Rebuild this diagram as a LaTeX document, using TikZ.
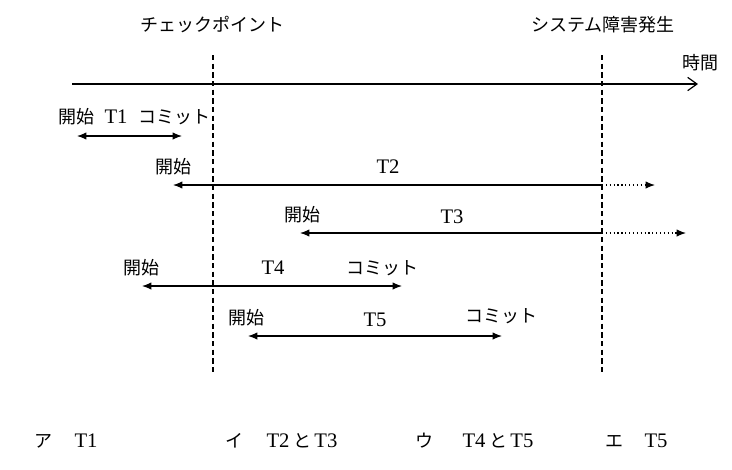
\documentclass[tikz,border=0pt]{standalone}
\usepackage{fontspec}
\setmainfont{Liberation Serif}
\newfontfamily\jp{Noto Sans CJK JP}
\usetikzlibrary{arrows.meta}
\tikzset{>=latex}
\tikzset{jptext/.style = {inner sep=1pt, font=\jp\fontsize{13.5}{15}\selectfont}}
\tikzset{tname/.style = {inner sep=1pt, font=\fontsize{15.5}{17}\selectfont}}
\tikzset{txn/.style = {{Latex[length=7pt,width=5.5pt]}-{Latex[length=7pt,width=5.5pt]}, line width=0.9pt}}
\tikzset{txnopen/.style = {{Latex[length=7pt,width=5.5pt]}-, line width=0.9pt}}
\tikzset{lost/.style = {-{Latex[length=7pt,width=5.5pt]}, dotted, line width=0.9pt}}
\tikzset{axis/.style = {-{Straight Barb[length=7pt,width=10pt]}, line width=0.9pt}}
\tikzset{event/.style = {dash pattern=on 4pt off 2.5pt, line width=0.9pt}}

\begin{document}
\begin{tikzpicture}[x=0.75pt,y=-0.75pt]
                \useasboundingbox (0,0) rectangle (732,469);

                \node[jptext] (CP) at (212,25) {チェックポイント};
                \node[jptext] (SF) at (603,25) {システム障害発生};
                \node[jptext] (TM) at (700,63) {時間};

                \coordinate (ts) at (72,84);
                \coordinate (te) at (698,84);
                \draw[axis] (ts) -- (te);

                \coordinate (cpt) at (213,55);
                \coordinate (cpb) at (213,372);
                \coordinate (sft) at (602,55);
                \coordinate (sfb) at (602,372);
                \draw[event] (cpt) -- (cpb);
                \draw[event] (sft) -- (sfb);

                \node[jptext] (s1) at (76,117) {開始};
                \node[tname] (T1) at (116,117) {T1};
                \node[jptext] (c1) at (174,117) {コミット};
                \coordinate (a1) at (77,136);
                \coordinate (b1) at (182,136);
                \draw[txn] (a1) -- (b1);

                \node[jptext] (s2) at (173,167) {開始};
                \node[tname] (T2) at (388,167) {T2};
                \coordinate (a2) at (173,185);
                \coordinate (f2) at (602,185);
                \coordinate (e2) at (655,185);
                \draw[txnopen] (a2) -- (f2);
                \draw[lost] (f2) -- (e2);

                \node[jptext] (s3) at (302,215) {開始};
                \node[tname] (T3) at (452,217) {T3};
                \coordinate (a3) at (300,233);
                \coordinate (f3) at (602,233);
                \coordinate (e3) at (686,233);
                \draw[txnopen] (a3) -- (f3);
                \draw[lost] (f3) -- (e3);

                \node[jptext] (s4) at (141,268) {開始};
                \node[tname] (T4) at (273,268) {T4};
                \node[jptext] (c4) at (382,268) {コミット};
                \coordinate (a4) at (142,286);
                \coordinate (b4) at (402,286);
                \draw[txn] (a4) -- (b4);

                \node[jptext] (s5) at (246,318) {開始};
                \node[tname] (T5) at (375,320) {T5};
                \node[jptext] (c5) at (501,316) {コミット};
                \coordinate (a5) at (248,336);
                \coordinate (b5) at (502,336);
                \draw[txn] (a5) -- (b5);

                \node[jptext] (oa) at (43,441) {ア};
                \node[tname] (oat) at (86,441) {T1};
                \node[jptext] (oi) at (234,441) {イ};
                \node[tname] (oit) at (302,441) {T2\,{\jp\fontsize{13.5}{15}\selectfont と}\,T3};
                \node[jptext] (ou) at (424,441) {ウ};
                \node[tname] (out) at (498,441) {T4\,{\jp\fontsize{13.5}{15}\selectfont と}\,T5};
                \node[jptext] (oe) at (614,441) {エ};
                \node[tname] (oet) at (656,441) {T5};
            \end{tikzpicture}
\end{document}
